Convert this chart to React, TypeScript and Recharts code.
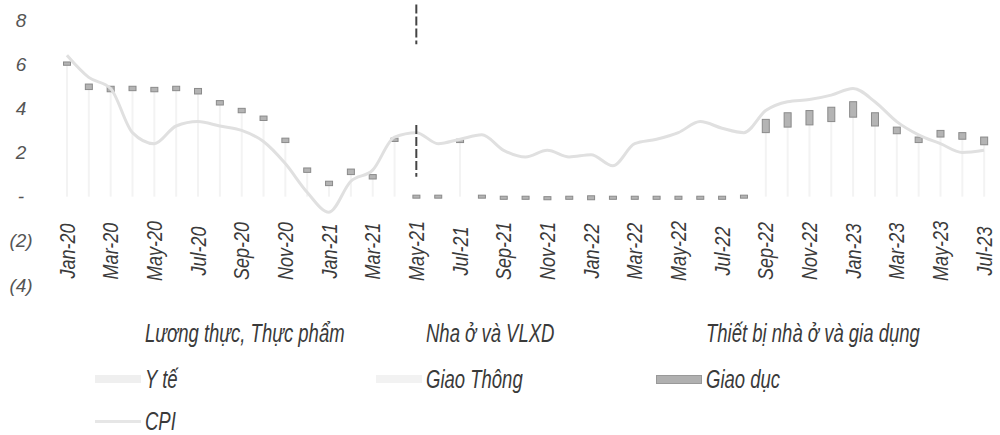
import { ComposedChart, Bar, Line, XAxis, YAxis, ReferenceLine } from 'recharts';

const months = [
  'Jan-20', 'Feb-20', 'Mar-20', 'Apr-20', 'May-20', 'Jun-20', 'Jul-20', 'Aug-20', 'Sep-20', 'Oct-20', 'Nov-20', 'Dec-20',
  'Jan-21', 'Feb-21', 'Mar-21', 'Apr-21', 'May-21', 'Jun-21', 'Jul-21', 'Aug-21', 'Sep-21', 'Oct-21', 'Nov-21', 'Dec-21',
  'Jan-22', 'Feb-22', 'Mar-22', 'Apr-22', 'May-22', 'Jun-22', 'Jul-22', 'Aug-22', 'Sep-22', 'Oct-22', 'Nov-22', 'Dec-22',
  'Jan-23', 'Feb-23', 'Mar-23', 'Apr-23', 'May-23', 'Jun-23', 'Jul-23',
];

// CPI, % yoy
const cpi = [
  6.4, 5.4, 4.9, 2.9, 2.4, 3.2, 3.4, 3.2, 3.0, 2.5, 1.5, 0.2,
  -0.7, 0.7, 1.2, 2.7, 2.9, 2.4, 2.6, 2.8, 2.1, 1.8, 2.1, 1.8,
  1.9, 1.4, 2.4, 2.6, 2.9, 3.4, 3.1, 2.9, 3.9, 4.3, 4.4, 4.6,
  4.9, 4.3, 3.4, 2.8, 2.4, 2.0, 2.1,
];

// Giao duc markers: bottom and top of each small block
const giaoDucLo = [
  5.95, 4.85, 4.75, 4.8, 4.75, 4.8, 4.65, 4.15, 3.8, 3.45, 2.45, 1.1,
  0.5, 1.0, 0.8, 2.5, null, null, 2.45, null, -0.12, -0.12, -0.14, -0.12,
  -0.14, -0.12, -0.12, -0.12, -0.12, -0.12, -0.12, null, 2.9, 3.15, 3.25, 3.4,
  3.6, 3.2, 2.85, 2.45, 2.7, 2.6, 2.35,
];
const giaoDucHi = [
  6.1, 5.1, 5.0, 5.0, 4.95, 5.0, 4.9, 4.35, 4.0, 3.65, 2.65, 1.3,
  0.7, 1.25, 1.0, 2.65, null, null, 2.6, null, 0.02, 0.02, 0.0, 0.02,
  0.04, 0.02, 0.02, 0.02, 0.02, 0.02, 0.02, null, 3.5, 3.8, 3.9, 4.05,
  4.3, 3.8, 3.15, 2.7, 3.0, 2.9, 2.7,
];

const yTicks = [-4, -2, 0, 2, 4, 6, 8];

const legendNames = [
  'Lương thực, Thực phẩm', 'Nha ở và VLXD', 'Thiết bị nhà ở và gia dụng',
  'Y tế', 'Giao Thông', 'Giao dục',
  'CPI',
];

const data = months.map((m, i) => ({
  month: m,
  cpi: cpi[i],
  gdBase: giaoDucLo[i],
  gdCap: giaoDucHi[i] == null || giaoDucLo[i] == null ? null : giaoDucHi[i]! - giaoDucLo[i]!,
}));

const FONT = '"Liberation Sans", Arial, sans-serif';

const fmtY = (v: number) => (v === 0 ? '-' : v < 0 ? `(${-v})` : `${v}`);

const YTick = ({ y, payload }: any) => (
  <text x={21} y={y} dy="0.35em" textAnchor="middle" fontSize={19} fontStyle="italic" fontFamily={FONT} fill="#555">
    {fmtY(payload.value)}
  </text>
);

const XTick = ({ x, y, payload, index }: any) => {
  if (index % 2 !== 0) return null;
  return (
    <g transform={`translate(${x},${y - 42})`}>
      <text transform="rotate(-90) scale(0.82,1)" textAnchor="middle" dy="0.35em" fontSize={22} fontStyle="italic" fontFamily={FONT} fill="#3a3a3a">
        {payload.value}
      </text>
    </g>
  );
};

const BaseShape = (props: any) => {
  const { x, y, width, height } = props;
  if (height == null || !isFinite(height)) return null;
  const top = Math.min(y, y + height);
  return <rect x={x + width / 2 - 1} y={top} width={2} height={Math.abs(height)} fill="#f3f3f3" />;
};

const CapShape = (props: any) => {
  const { x, y, width, height } = props;
  if (height == null || !isFinite(height)) return null;
  let top = Math.min(y, y + height);
  let h = Math.abs(height);
  if (h < 3) {
    top -= (3 - h) / 2;
    h = 3;
  }
  return <rect x={x + width / 2 - 3.5} y={top} width={7} height={h} fill="#b4b4b4" stroke="#8a8a8a" strokeWidth={1} />;
};

const legendCols = [145, 426, 706];
const legendRows = [333, 379, 421];
const swatches = [
  null, null, null,
  { bg: '#efefef', h: 8 },
  { bg: '#f2f2f2', h: 8 },
  { bg: '#b0b0b0', h: 9, border: '1px solid #999' },
  { bg: '#e6e6e6', h: 3 },
];

export default function App() {
  return (
    <div style={{ position: 'fixed', left: 0, top: 0, width: 1000, height: 435, background: '#fff', overflow: 'hidden' }}>
      <ComposedChart width={1000} height={300} data={data} margin={{ top: 20, right: 5, bottom: 14, left: 0 }}>
        <XAxis dataKey="month" axisLine={false} tickLine={false} height={1} interval={0} tick={<XTick />} />
        <YAxis domain={[-4, 8]} ticks={yTicks} width={56} axisLine={false} tickLine={false} tick={<YTick />} />
        <Line type="monotone" dataKey="cpi" stroke="#e0e0e0" strokeWidth={3} dot={false} isAnimationActive={false} />
        <Bar dataKey="gdBase" stackId="gd" barSize={8} shape={<BaseShape />} isAnimationActive={false} />
        <Bar dataKey="gdCap" stackId="gd" barSize={8} shape={<CapShape />} isAnimationActive={false} />
        <ReferenceLine segment={[{ x: 'May-21', y: 8.7 }, { x: 'May-21', y: 6.9 }]} stroke="#444" strokeWidth={2} strokeDasharray="9 3" ifOverflow="visible" />
        <ReferenceLine segment={[{ x: 'May-21', y: 3.25 }, { x: 'May-21', y: 0.9 }]} stroke="#444" strokeWidth={2} strokeDasharray="9 3" ifOverflow="visible" />
      </ComposedChart>
      {legendNames.map((name, i) => {
        const left = legendCols[i % 3];
        const cy = legendRows[Math.floor(i / 3)];
        const sw = swatches[i];
        return (
          <div key={name}>
            {sw && (
              <div
                style={{
                  position: 'absolute',
                  left: left - 50,
                  top: cy - sw.h / 2,
                  width: 46,
                  height: sw.h,
                  background: sw.bg,
                  border: sw.border,
                  boxSizing: 'border-box',
                }}
              />
            )}
            <span
              style={{
                position: 'absolute',
                left,
                top: cy - 12,
                fontFamily: FONT,
                fontStyle: 'italic',
                fontSize: 25,
                lineHeight: '24px',
                color: '#3a3a3a',
                whiteSpace: 'nowrap',
                transform: 'scaleX(0.74)',
                transformOrigin: 'left center',
              }}
            >
              {name}
            </span>
          </div>
        );
      })}
    </div>
  );
}
